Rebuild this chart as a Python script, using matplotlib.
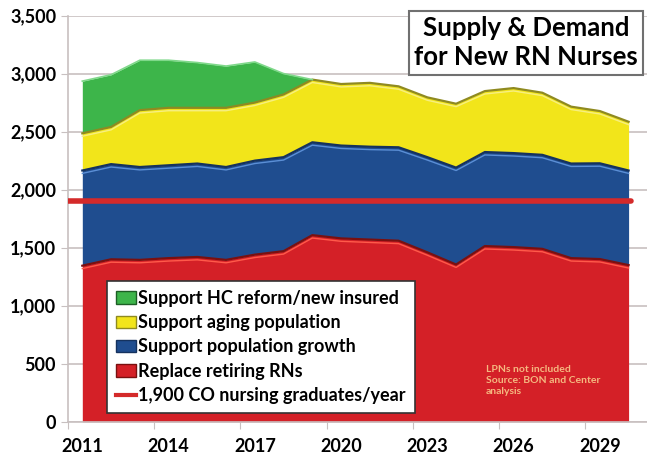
import numpy as np
import matplotlib.pyplot as plt
from matplotlib.patches import Patch
from matplotlib.lines import Line2D
from matplotlib.ticker import FuncFormatter

years = np.arange(2011, 2031)
retiring = [1345, 1400, 1395, 1410, 1420, 1395, 1440, 1470, 1608, 1580,
            1570, 1560, 1460, 1355, 1514, 1505, 1490, 1410, 1402, 1350]
pop_growth = [820, 820, 800, 800, 805, 800, 810, 810, 800, 800,
              800, 805, 820, 835, 810, 810, 810, 815, 825, 815]
aging = [320, 320, 490, 495, 480, 510, 500, 540, 540, 530,
         550, 525, 515, 550, 525, 560, 535, 490, 450, 420]
hc_reform = [450, 450, 430, 410, 390, 360, 350, 180, 0, 0,
             0, 0, 0, 0, 0, 0, 0, 0, 0, 0]
graduates = 1900

labels = ['Support HC reform/new insured', 'Support aging population',
          'Support population growth', 'Replace retiring RNs']
colors = ['#3db54a', '#f2e51a', '#1f4d8f', '#d42027']
edges = ['#1d5e25', '#8f8a20', '#15325e', '#7a1010']
highlights = ['#7fd88a', '#f7ef80', '#5b8fd6', '#ff5a4a']

plt.rcParams['font.family'] = ['Lato', 'DejaVu Sans']

fig = plt.figure(figsize=(6.47, 4.57), dpi=100)
ax = fig.add_axes([0.105, 0.077, 0.895, 0.889])

layers = [retiring, pop_growth, aging, hc_reform]
base = np.zeros(len(years))
tops = []
for vals in layers:
    top = base + np.array(vals)
    tops.append((base.copy(), top))
    base = top

# stacked areas, top layer first
for i in range(3, -1, -1):
    lo, hi = tops[i]
    ax.fill_between(years, lo, hi, color=colors[3 - i], lw=0, zorder=2)
for i in range(4):
    lo, hi = tops[i]
    if i == 3:
        idx = np.where(np.array(hc_reform) > 0)[0]
        sl = slice(0, idx[-1] + 2)
        ax.plot(years[sl], hi[sl], color=highlights[0], lw=1.2, zorder=3)
        continue
    ax.plot(years, hi, color=edges[3 - i], lw=1.6, zorder=3)
    ax.plot(years, hi - 25, color=highlights[3 - i], lw=1.0, zorder=3)

ax.plot([2010.4, 2030.1], [graduates, graduates], color='#d42a2a', lw=4,
        solid_capstyle='round', zorder=4)

ax.set_xlim(2010.5, 2030.64)
ax.set_ylim(0, 3500)
ax.set_yticks(np.arange(0, 3501, 500))
ax.yaxis.set_major_formatter(FuncFormatter(lambda v, p: f'{int(v):,}'))
ax.grid(axis='y', color='#c8c0c0', lw=1.2, zorder=0)
ax.set_axisbelow(True)

ax.set_xticks(np.arange(2010.5, 2030, 3))
ax.set_xticklabels([])
ax.set_xticks(np.arange(2011, 2031, 3), minor=True)
ax.set_xticklabels([str(y) for y in range(2011, 2031, 3)], minor=True,
                   fontsize=13, fontweight='bold')
ax.tick_params(axis='x', which='minor', length=0, pad=12)
ax.tick_params(axis='x', which='major', length=5, color='#c8c0c0')
ax.tick_params(axis='y', length=5, color='#c8c0c0', labelsize=13)
for t in ax.get_yticklabels():
    t.set_fontweight('bold')

for s in ['top', 'right']:
    ax.spines[s].set_visible(False)
for s in ['left', 'bottom']:
    ax.spines[s].set_color('#c8c0c0')
    ax.spines[s].set_linewidth(1.2)

handles = [Patch(facecolor=colors[i], edgecolor=edges[i], label=labels[i])
           for i in range(4)]
handles.append(Line2D([], [], color='#d42a2a', lw=3,
                      label='1,900 CO nursing graduates/year'))
leg = ax.legend(handles=handles, loc='lower left',
                bbox_to_anchor=(0.067, 0.022), frameon=True, fancybox=False,
                framealpha=1, handlelength=1.1, handleheight=0.7,
                handletextpad=0.15, labelspacing=0.4, borderpad=0.5,
                borderaxespad=0, prop={'weight': 'bold', 'size': 13})
leg.get_frame().set_edgecolor('#333333')
leg.get_frame().set_linewidth(1.2)
leg.set_zorder(6)

ax.text(0.722, 0.14, 'LPNs not included\nSource: BON and Center\nanalysis',
        transform=ax.transAxes, fontsize=7.5, color='#f5b880',
        fontweight='bold', va='top', ha='left', zorder=5, linespacing=1.3)

fig.text(0.813, 0.906, 'Supply & Demand\nfor New RN Nurses', ha='center',
         va='center', fontsize=18.5, fontweight='bold', linespacing=1.25,
         bbox=dict(boxstyle='square,pad=0.2', facecolor='white',
                   edgecolor='#707070', lw=1.5))

fig.savefig('out.png', dpi=100)
